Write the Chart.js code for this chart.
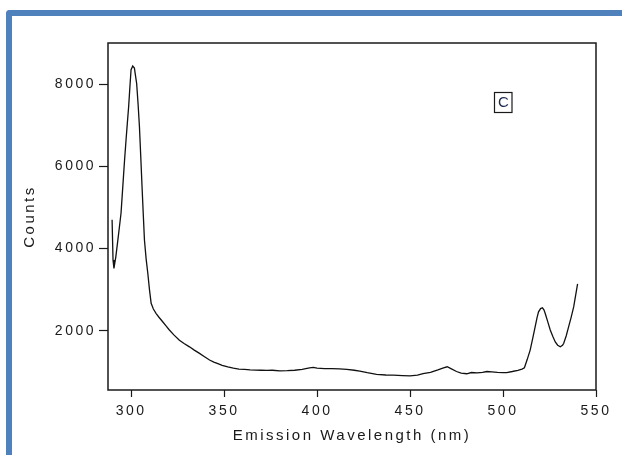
<!DOCTYPE html>
<html>
<head>
<meta charset="utf-8">
<script src="https://cdn.jsdelivr.net/npm/chart.js@4"></script>
<style>
  html, body { margin: 0; padding: 0; background: #fff; }
  #wrap { position: relative; width: 622px; height: 455px; overflow: hidden; }
  #frame { position: absolute; left: 6px; top: 10px; width: 700px; height: 500px;
           border-top: 6px solid #4f81bd; border-left: 6px solid #4f81bd; border-top-left-radius: 4px; }
  #chart { position: absolute; left: 0; top: 0; }
</style>
</head>
<body>
<div id="wrap">
  <div id="frame"></div>
  <canvas id="chart" width="622" height="455"></canvas>
</div>
<script>
// emission spectrum, panel C
const wavelength = [
  289.8, 290.3, 290.8, 291.8, 292.8, 293.8, 294.6, 295.8, 296.5, 297.3,
  298.0, 298.7, 299.4, 300.0, 300.9, 301.8, 302.4, 303.0, 303.8, 304.5,
  305.2, 305.9, 306.6, 307.2, 308.1, 309.0, 309.9, 310.8, 312.0, 313.5,
  315.0, 317.0, 318.8, 320.6, 323.0, 326.0, 328.5, 331.4, 334.0, 336.8,
  339.5, 342.2, 344.5, 346.7, 349.0, 352.0, 355.0, 358.0, 361.0, 364.0,
  367.0, 370.0, 373.0, 376.0, 380.0, 384.0, 388.0, 392.0, 396.0, 398.0,
  400.0, 404.0, 408.0, 412.0, 416.0, 420.0, 423.0, 427.0, 432.0, 437.0,
  441.0, 446.0, 450.0, 454.0, 457.0, 461.0, 465.0, 468.0, 470.0, 472.0,
  475.0, 477.5, 480.5, 483.0, 486.0, 489.0, 491.3, 494.0, 497.0, 500.0,
  502.0, 505.0, 508.0, 510.2, 511.5, 513.0, 514.6, 516.0, 517.3, 518.3,
  519.1, 520.2, 521.2, 522.0, 522.7, 524.0, 525.4, 526.8, 528.1, 529.4,
  530.8, 532.0, 532.6, 534.0, 535.3, 536.7, 538.0, 539.0, 540.1
];
const counts = [
  4700, 3720, 3520, 3800, 4170, 4550, 4860, 5670, 6150, 6640,
  7050, 7450, 7950, 8350, 8440, 8390, 8200, 8020, 7500, 6970,
  6250, 5510, 4800, 4210, 3750, 3400, 3000, 2670, 2530, 2420,
  2330, 2220, 2120, 2020, 1900, 1770, 1690, 1610, 1530, 1450,
  1370, 1290, 1240, 1200, 1160, 1120, 1090, 1070, 1060, 1050,
  1045, 1040, 1035, 1040, 1025, 1030, 1040, 1060, 1100, 1110,
  1090, 1080, 1080, 1075, 1060, 1040, 1020, 980, 940, 925,
  920, 910, 905, 920, 960, 990, 1050, 1100, 1125, 1080,
  1010, 970, 955, 985, 975, 990, 1010, 1000, 990, 985,
  985, 1010, 1040, 1070, 1100, 1300, 1530, 1820, 2100, 2320,
  2460, 2540, 2560, 2510, 2420, 2230, 2020, 1860, 1730, 1650,
  1610, 1650, 1690, 1880, 2100, 2340, 2580, 2850, 3140
];
const xTicks = [300, 350, 400, 450, 500, 550];
const yTicks = [2000, 4000, 6000, 8000];
const panelLabel = 'C';

const ink = '#1a1a1a';

const framePlugin = {
  id: 'framePlugin',
  beforeDraw(chart) { chart.ctx.letterSpacing = '2.5px'; },
  afterDraw(chart) {
    const { ctx, chartArea: a } = chart;
    ctx.save();
    ctx.letterSpacing = '0px';
    ctx.strokeStyle = ink;
    ctx.lineWidth = 1.5;
    ctx.strokeRect(a.left, a.top, a.right - a.left, a.bottom - a.top);
    // panel letter box
    ctx.lineWidth = 1.2;
    ctx.strokeRect(494.5, 92.5, 17.5, 20);
    ctx.fillStyle = '#1c2b4a';
    ctx.font = '15px Arial, "Liberation Sans"';
    ctx.textAlign = 'center';
    ctx.textBaseline = 'middle';
    ctx.fillText(panelLabel, 503.3, 103);
    ctx.restore();
  }
};

new Chart(document.getElementById('chart'), {
  type: 'line',
  data: {
    datasets: [{
      data: wavelength.map((w, i) => ({ x: w, y: counts[i] })),
      borderColor: '#111',
      borderWidth: 1.3,
      pointRadius: 0,
      tension: 0,
      fill: false
    }]
  },
  options: {
    responsive: false,
    animation: false,
    events: [],
    layout: { padding: { left: 0, top: 43, right: 26, bottom: 0 } },
    plugins: { legend: { display: false }, tooltip: { enabled: false } },
    scales: {
      x: {
        type: 'linear', min: 287.6, max: 550,
        afterFit: s => { s.height = 65; },
        afterBuildTicks: s => { s.ticks = xTicks.map(v => ({ value: v })); },
        grid: { drawOnChartArea: false, drawTicks: true, tickLength: 7, color: ink, tickWidth: 1.2 },
        border: { display: false },
        ticks: { color: ink, padding: 6, maxRotation: 0, callback: v => String(v),
                 font: { family: 'Arial, "Liberation Sans"', size: 14 } },
        title: { display: true, text: 'Emission Wavelength (nm)', color: ink,
                 padding: { top: 0, bottom: 10 }, font: { family: 'Arial, "Liberation Sans"', size: 15 } }
      },
      y: {
        min: 560, max: 9000,
        afterFit: s => { s.width = 108; },
        afterBuildTicks: s => { s.ticks = yTicks.map(v => ({ value: v })); },
        grid: { drawOnChartArea: false, drawTicks: true, tickLength: 9, color: ink, tickWidth: 1.2 },
        border: { display: false },
        ticks: { color: ink, padding: 3, callback: v => String(v),
                 font: { family: 'Arial, "Liberation Sans"', size: 14 } },
        title: { display: true, text: 'Counts', color: ink,
                 padding: { top: 21, bottom: 0 }, font: { family: 'Arial, "Liberation Sans"', size: 15 } }
      }
    }
  },
  plugins: [framePlugin]
});
</script>
</body>
</html>
